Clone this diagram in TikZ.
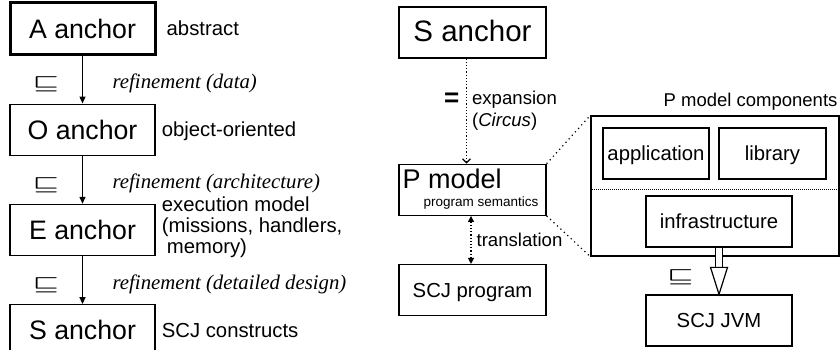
\documentclass[tikz,border=0pt]{standalone}
\usepackage{amsmath, amssymb}
\usepackage{fontspec}
\setmainfont{Liberation Sans}
\newfontfamily\refinefont{Liberation Serif}
\usetikzlibrary{positioning}
\usetikzlibrary{arrows.meta}

\tikzset{
  anchorbox/.style={draw, line width=1.3pt, minimum width=145pt, minimum height=51pt,
    inner sep=0pt, text height=19pt, text depth=0pt, font=\fontsize{26.7}{30}\selectfont},
  partbox/.style={draw, line width=1.3pt, minimum height=51pt, inner sep=0pt,
    text height=14.6pt, text depth=0pt, font=\fontsize{20.3}{24}\selectfont},
  note/.style={inner sep=0pt, anchor=west, text height=14.6pt, text depth=0pt,
    font=\fontsize{20.3}{21}\selectfont},
  notes/.style={inner sep=0pt, anchor=west, align=left, font=\fontsize{20.3}{21}\selectfont},
  smallnote/.style={inner sep=0pt, anchor=west, font=\fontsize{18.6}{22}\selectfont},
  refnote/.style={inner sep=0pt, anchor=west, text height=14pt, text depth=0pt,
    font=\refinefont\itshape\fontsize{20.8}{24}\selectfont},
  sqref/.style={inner sep=0pt, anchor=east, font=\fontsize{21}{24}\selectfont},
  refines/.style={line width=1.3pt, -{Triangle[length=7pt,width=6pt]}},
  looselink/.style={line width=1.2pt, dash pattern=on 1.2pt off 3.5pt},
}
\newcommand{\refsym}{\scalebox{1.4}[0.82]{\boldmath$\sqsubseteq$}}

\begin{document}
\begin{tikzpicture}[x=1pt, y=1pt]
    \useasboundingbox (0,0) rectangle (840,349);

    % Refinement chain
    \node[anchorbox, line width=3pt] (aanc) at (82.5,320.5) {A anchor};
    \node[anchorbox, below=48pt of aanc] (oanc) {O anchor};
    \node[anchorbox, below=48pt of oanc] (eanc) {E anchor};
    \node[anchorbox, below=48pt of eanc] (sanc) {S anchor};

    \node[note, right=10pt of aanc] (abstr) {abstract};
    \node[note, right=6pt of oanc] (objor) {object-oriented};
    \node[notes, right=6pt of eanc, yshift=2.6pt] (execm) {execution model\\(missions, handlers,\\\hspace{0.25em}memory)};
    \node[note, right=6pt of sanc] (scjc) {SCJ constructs};

    \draw[refines] (aanc) -- (oanc)
      node[refnote, midway, xshift=29.5pt, yshift=-2pt] {refinement (data)}
      node[sqref, midway, xshift=-23pt, yshift=-5pt] {\refsym};
    \draw[refines] (oanc) -- (eanc)
      node[refnote, midway, xshift=29.5pt, yshift=-2pt] {refinement (architecture)}
      node[sqref, midway, xshift=-23pt, yshift=-5pt] {\refsym};
    \draw[refines] (eanc) -- (sanc)
      node[refnote, midway, xshift=29.5pt, yshift=-2pt] {refinement (detailed design)}
      node[sqref, midway, xshift=-23pt, yshift=-5pt] {\refsym};

    % Program side
    \node[anchorbox, minimum width=147pt, font=\fontsize{29.5}{32}\selectfont] (sanc2) at (472.5,316.5) {S anchor};
    \node[anchorbox, minimum width=147pt, below=105pt of sanc2] (pmod) {};
    \node[partbox, minimum width=147pt, below=48pt of pmod] (scjprog) {SCJ program};

    \node[inner sep=0pt, anchor=base west, font=\fontsize{27}{30}\selectfont] (pmodlbl)
      at ([xshift=4pt,yshift=-25pt]pmod.north west) {P model};
    \node[inner sep=0pt, anchor=base east, font=\fontsize{13.5}{16}\selectfont] (pmodsem)
      at ([xshift=-8pt,yshift=-43pt]pmod.north east) {program semantics};

    \draw[line width=1.2pt, dotted, -{Straight Barb[length=4pt,width=8pt]}]
      ([xshift=-6pt]sanc2.south) -- ([xshift=-6pt]pmod.north)
      node[smallnote, midway, align=left, xshift=5pt] {expansion\\(\textit{Circus})}
      node[midway, anchor=east, inner sep=0pt, xshift=-6.5pt, yshift=11.5pt,
        font=\bfseries\fontsize{26}{26}\selectfont] {=};
    \draw[line width=1.2pt, dotted, {Triangle[length=6pt,width=6pt]}-{Triangle[length=6pt,width=6pt]}]
      ([xshift=-1.5pt]pmod.south) -- ([xshift=-1.5pt]scjprog.north)
      node[smallnote, midway, xshift=5pt, text height=13.4pt, text depth=0pt] {translation};

    % Components
    \node[draw, line width=1.3pt, minimum width=248pt, minimum height=140pt, inner sep=0pt] (comp) at (715,163) {};
    \node[inner sep=0pt, anchor=south east, font=\fontsize{18.5}{20}\selectfont] (complbl)
      at ([xshift=-2pt,yshift=5pt]comp.north east) {P model components};
    \node[partbox, minimum width=106pt] (app) at (656,195.5) {application};
    \node[partbox, minimum width=107pt] (lib) at (772.5,195.5) {library};
    \node[partbox, minimum width=146pt] (infra) at (719,127.5) {infrastructure};
    \node[partbox, minimum width=146pt] (jvm) at (719,28.5) {SCJ JVM};

    \draw[line width=1pt, densely dotted] ([yshift=-3pt]comp.west) -- ([yshift=-3pt]comp.east);
    \draw[looselink] (pmod.north east) -- (comp.north west);
    \draw[looselink] (pmod.south east) -- (comp.south west);

    % Refinement to the JVM
    \draw[line width=1.2pt, double distance=6pt] ([yshift=-0.6pt]infra.south) -- ([yshift=27pt]jvm.north);
    \draw[line width=1.2pt, fill=white] ([xshift=-8.5pt,yshift=27pt]jvm.north) -- (jvm.north)
      -- ([xshift=8.5pt,yshift=27pt]jvm.north) -- cycle;
    \path (infra.south) -- (jvm.north) node[sqref, midway, xshift=-25.5pt, yshift=-6pt] {\refsym};
  \end{tikzpicture}
\end{document}
